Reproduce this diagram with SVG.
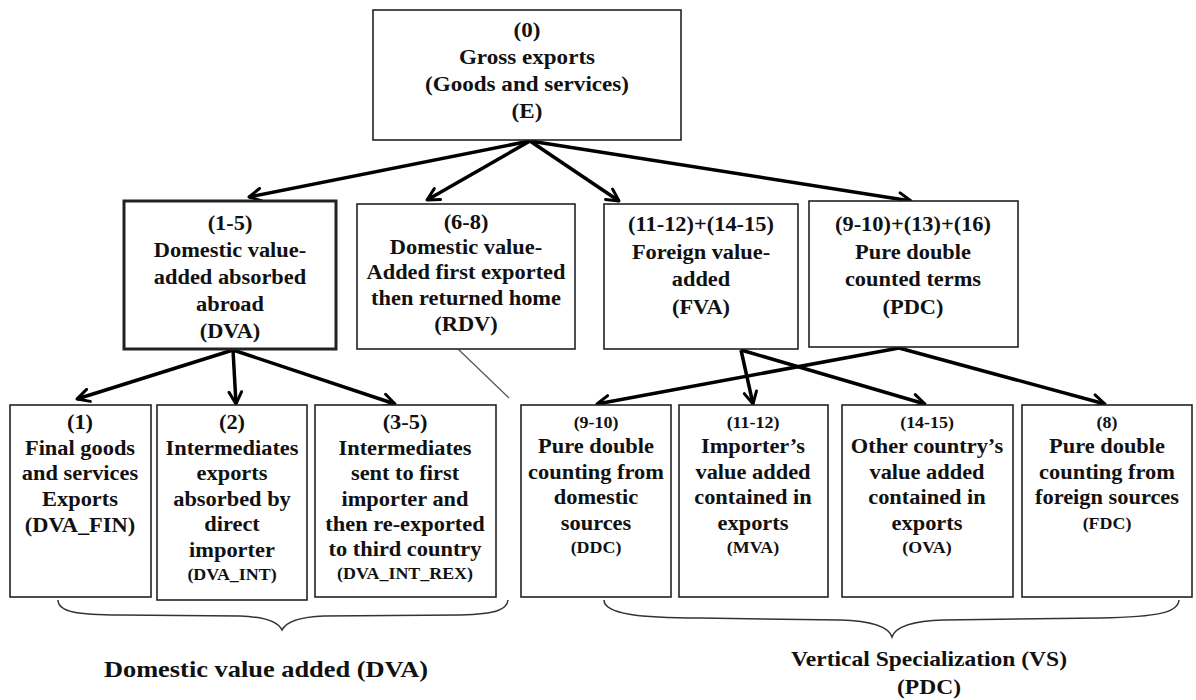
<svg xmlns="http://www.w3.org/2000/svg" width="1196" height="700" viewBox="0 0 1196 700">
<style>
.box{fill:#fff;stroke:#222;stroke-width:1.6}
.thick{stroke-width:3}
text{font-family:"Liberation Serif","Times New Roman",serif;font-weight:bold;fill:#111;text-anchor:middle}
.m{font-size:20px}
.s{font-size:16px}
.t{font-size:21px}
.big{font-size:24px}
.conn{fill:none;stroke:#000;stroke-width:3.5;marker-end:url(#ah)}
.thin{fill:none;stroke:#555;stroke-width:1.2}
.brace{fill:none;stroke:#333;stroke-width:1.5}
</style>
<defs>
<marker id="ah" viewBox="0 0 14 14" refX="12" refY="7" markerWidth="16" markerHeight="16" markerUnits="userSpaceOnUse" orient="auto">
<path d="M1.5,1.5 L12,7 L1.5,12.5" fill="none" stroke="#000" stroke-width="2.6" stroke-linecap="round" stroke-linejoin="round"/>
</marker>
</defs>
<rect width="1196" height="700" fill="#fff"/>

<g id="connectors">
<path class="conn" d="M530,141 L249,197"/>
<path class="conn" d="M530,141 L427,200"/>
<path class="conn" d="M530,141 L619,201"/>
<path class="conn" d="M530,141 L911,201"/>
<path class="conn" d="M233,350 L77,399"/>
<path class="conn" d="M233,350 L236,404"/>
<path class="conn" d="M233,350 L395,404"/>
<path class="conn" d="M741,350 L753,404"/>
<path class="conn" d="M741,350 L925,404"/>
<path class="conn" d="M899,348 L597,404"/>
<path class="conn" d="M899,348 L1105,404"/>
<path class="thin" d="M458,349 L509,398"/>
</g>

<g id="n0">
<rect class="box" x="373" y="10" width="308" height="130"/>
<g transform="translate(527 0) scale(1.1 1)">
<text class="t" x="0" y="37">(0)</text>
<text class="t" x="0" y="64">Gross exports</text>
<text class="t" x="0" y="91">(Goods  and  services)</text>
<text class="t" x="0" y="118">(E)</text>
</g>
</g>

<g id="n1">
<rect class="box thick" x="124" y="201" width="212" height="148"/>
<g transform="translate(230 0) scale(1.12 1)">
<text class="m" x="0" y="230">(1-5)</text>
<text class="m" x="0" y="257">Domestic value-</text>
<text class="m" x="0" y="284">added absorbed</text>
<text class="m" x="0" y="311">abroad</text>
<text class="m" x="0" y="338">(DVA)</text>
</g>
</g>

<g id="n2">
<rect class="box" x="357" y="204" width="218" height="145"/>
<g transform="translate(466 0) scale(1.12 1)">
<text class="m" x="0" y="229">(6-8)</text>
<text class="m" x="0" y="254">Domestic value-</text>
<text class="m" x="0" y="279">Added first exported</text>
<text class="m" x="0" y="305">then returned home</text>
<text class="m" x="0" y="331">(RDV)</text>
</g>
</g>

<g id="n3">
<rect class="box" x="604" y="204" width="194" height="145"/>
<g transform="translate(701 0) scale(1.12 1)">
<text class="m" x="0" y="231">(11-12)+(14-15)</text>
<text class="m" x="0" y="259">Foreign value-</text>
<text class="m" x="0" y="286">added</text>
<text class="m" x="0" y="314">(FVA)</text>
</g>
</g>

<g id="n4">
<rect class="box" x="809" y="201" width="209" height="146"/>
<g transform="translate(913 0) scale(1.12 1)">
<text class="m" x="0" y="231">(9-10)+(13)+(16)</text>
<text class="m" x="0" y="259">Pure double</text>
<text class="m" x="0" y="286">counted terms</text>
<text class="m" x="0" y="314">(PDC)</text>
</g>
</g>

<g id="n5">
<rect class="box" x="10" y="405" width="141" height="192"/>
<g transform="translate(80 0) scale(1.12 1)">
<text class="m" x="0" y="429">(1)</text>
<text class="m" x="0" y="455">Final goods</text>
<text class="m" x="0" y="480">and services</text>
<text class="m" x="0" y="506">Exports</text>
<text class="m" x="0" y="532">(DVA_FIN)</text>
</g>
</g>

<g id="n6">
<rect class="box" x="157" y="405" width="150" height="195"/>
<g transform="translate(232 0) scale(1.12 1)">
<text class="m" x="0" y="429">(2)</text>
<text class="m" x="0" y="455">Intermediates</text>
<text class="m" x="0" y="480">exports</text>
<text class="m" x="0" y="506">absorbed by</text>
<text class="m" x="0" y="531">direct</text>
<text class="m" x="0" y="557">importer</text>
<text class="s" x="0" y="580">(DVA_INT)</text>
</g>
</g>

<g id="n7">
<rect class="box" x="315" y="405" width="181" height="192"/>
<g transform="translate(405 0) scale(1.12 1)">
<text class="m" x="0" y="429">(3-5)</text>
<text class="m" x="0" y="455">Intermediates</text>
<text class="m" x="0" y="480">sent to first</text>
<text class="m" x="0" y="506">importer and</text>
<text class="m" x="0" y="531">then re-exported</text>
<text class="m" x="0" y="556">to third country</text>
<text class="s" x="0" y="579">(DVA_INT_REX)</text>
</g>
</g>

<g id="n8">
<rect class="box" x="521" y="405" width="150" height="192"/>
<g transform="translate(596 0) scale(1.12 1)">
<text class="s" x="0" y="428">(9-10)</text>
<text class="m" x="0" y="453">Pure double</text>
<text class="m" x="0" y="479">counting from</text>
<text class="m" x="0" y="504">domestic</text>
<text class="m" x="0" y="530">sources</text>
<text class="s" x="0" y="553">(DDC)</text>
</g>
</g>

<g id="n9">
<rect class="box" x="679" y="405" width="149" height="192"/>
<g transform="translate(753 0) scale(1.12 1)">
<text class="s" x="0" y="428">(11-12)</text>
<text class="m" x="0" y="453">Importer’s</text>
<text class="m" x="0" y="479">value added</text>
<text class="m" x="0" y="504">contained in</text>
<text class="m" x="0" y="530">exports</text>
<text class="s" x="0" y="553">(MVA)</text>
</g>
</g>

<g id="n10">
<rect class="box" x="842" y="405" width="171" height="192"/>
<g transform="translate(927 0) scale(1.12 1)">
<text class="s" x="0" y="428">(14-15)</text>
<text class="m" x="0" y="453">Other country’s</text>
<text class="m" x="0" y="479">value added</text>
<text class="m" x="0" y="504">contained in</text>
<text class="m" x="0" y="530">exports</text>
<text class="s" x="0" y="553">(OVA)</text>
</g>
</g>

<g id="n11">
<rect class="box" x="1022" y="405" width="170" height="192"/>
<g transform="translate(1107 0) scale(1.12 1)">
<text class="s" x="0" y="428">(8)</text>
<text class="m" x="0" y="453">Pure double</text>
<text class="m" x="0" y="479">counting from</text>
<text class="m" x="0" y="504">foreign sources</text>
<text class="s" x="0" y="529">(FDC)</text>
</g>
</g>

<g id="braces">
<path class="brace" d="M58,600 C58,612 78,615 120,615 L240,616 C266,617 278,622 282,630 C286,622 298,617 324,616 L460,615 C498,614 507,609 508,600"/>
<path class="brace" d="M604,600 C604,614 640,618 700,618 L840,620 C876,621 889,628 892,637 C895,628 908,621 944,620 L1100,618 C1160,617 1178,612 1179,600"/>
</g>

<g id="labels">
<g transform="translate(266 0) scale(1.1 1)">
<text class="big" x="0" y="677">Domestic value added  (DVA)</text>
</g>
<g transform="translate(929 0) scale(1.12 1)">
<text class="t" x="0" y="666">Vertical Specialization  (VS)</text>
<text class="t" x="0" y="694">(PDC)</text>
</g>
</g>
</svg>
